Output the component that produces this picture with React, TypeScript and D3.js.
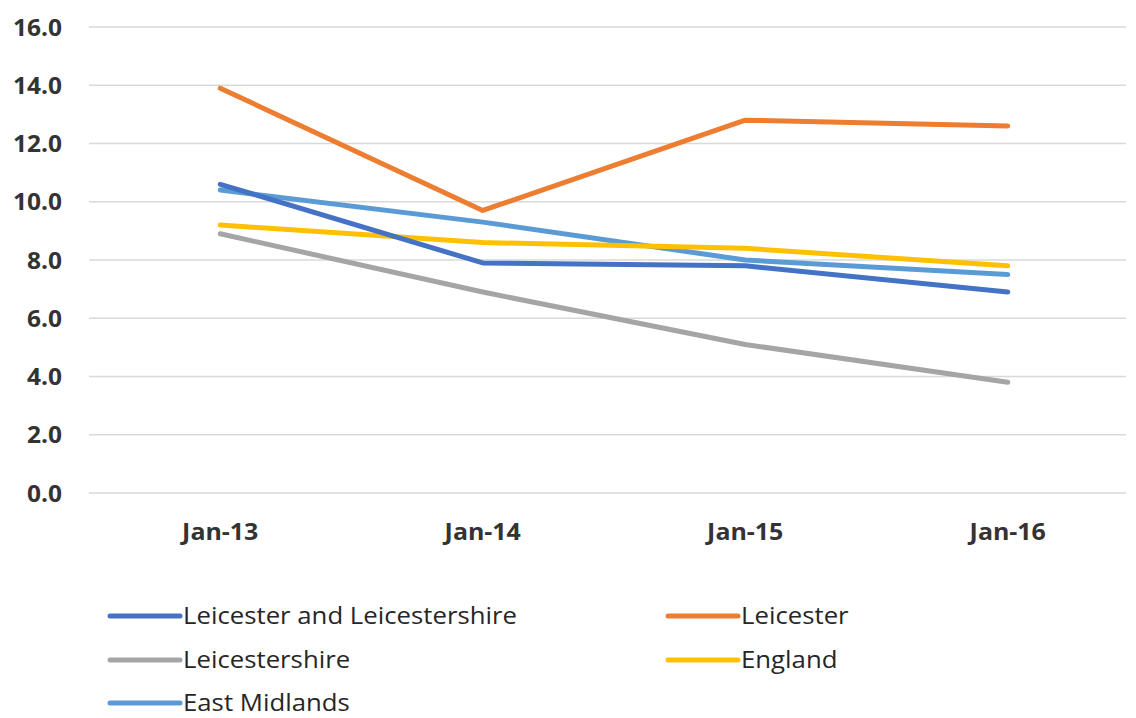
import React, { useEffect, useRef } from "react";
import * as d3 from "d3";

const categories = ["Jan-13", "Jan-14", "Jan-15", "Jan-16"];
const seriesNames = ["Leicester and Leicestershire", "Leicester", "Leicestershire", "England", "East Midlands"];
const leicsAndLeics = [10.6, 7.9, 7.8, 6.9];
const leicester = [13.9, 9.7, 12.8, 12.6];
const leicestershire = [8.9, 6.9, 5.1, 3.8];
const england = [9.2, 8.6, 8.4, 7.8];
const eastMidlands = [10.4, 9.3, 8.0, 7.5];
const yTicks = [0, 2, 4, 6, 8, 10, 12, 14, 16];
const colors = ["#4472C4", "#ED7D31", "#A5A5A5", "#FFC000", "#5B9BD5"];

const W = 1136, H = 718;
const FONT = "'Open Sans', sans-serif";

export default function App() {
  const ref = useRef<SVGSVGElement>(null);
  useEffect(() => {
    const svg = d3.select(ref.current);
    svg.selectAll("*").remove();
    const left = 89, right = 1139, top = 27, bottom = 493;
    const x = d3.scaleBand().domain(categories).range([left, right]);
    const y = d3.scaleLinear().domain([0, 16]).range([bottom, top]);

    const g = svg.append("g");
    g.selectAll("line.grid").data(yTicks).enter().append("line")
      .attr("x1", left).attr("x2", 1126)
      .attr("y1", d => y(d)).attr("y2", d => y(d))
      .attr("stroke", "#D9D9D9").attr("stroke-width", 1.5);
    g.selectAll("text.yt").data(yTicks).enter().append("text")
      .attr("transform", d => `translate(62,${y(d)}) scale(1.02,1)`)
      .attr("dy", "0.36em")
      .attr("text-anchor", "end").attr("font-family", FONT).attr("font-weight", "bold")
      .attr("font-size", 24).attr("fill", "#333")
      .text(d => d.toFixed(1));
    g.selectAll("text.xt").data(categories).enter().append("text")
      .attr("transform", d => `translate(${(x(d) as number) + x.bandwidth() / 2},531) scale(1.04,1)`)
      .attr("dy", "0.36em")
      .attr("text-anchor", "middle").attr("font-family", FONT).attr("font-weight", "bold")
      .attr("font-size", 24).attr("fill", "#333")
      .text(d => d);

    const all = [leicsAndLeics, leicester, leicestershire, england, eastMidlands];
    const line = d3.line<number>()
      .x((_, i) => (x(categories[i]) as number) + x.bandwidth() / 2)
      .y(d => y(d));
    const order = [2, 4, 3, 0, 1];
    order.forEach(i => {
      g.append("path").attr("d", line(all[i]) as string)
        .attr("fill", "none").attr("stroke", colors[i]).attr("stroke-width", 5)
        .attr("stroke-linecap", "round").attr("stroke-linejoin", "round");
    });

    const legendPos = [[110, 616], [668, 616], [110, 660], [668, 660], [110, 703]];
    seriesNames.forEach((name, i) => {
      const [lx, ly] = legendPos[i];
      g.append("line").attr("x1", lx).attr("x2", lx + 70).attr("y1", ly).attr("y2", ly)
        .attr("stroke", colors[i]).attr("stroke-width", 5).attr("stroke-linecap", "round");
      g.append("text").attr("transform", `translate(${lx + 73},${ly}) scale(1.12,1)`)
        .attr("dy", "0.35em")
        .attr("font-family", FONT).attr("font-size", 23).attr("fill", "#262626")
        .text(name);
    });
  }, []);
  return (
    <svg ref={ref} width={W} height={H}
      style={{ position: "absolute", left: 0, top: 0, background: "#fff" }} />
  );
}
